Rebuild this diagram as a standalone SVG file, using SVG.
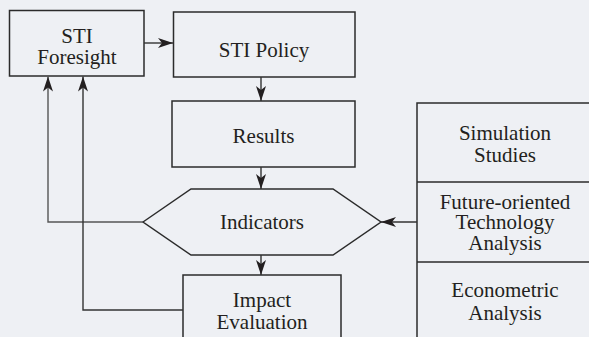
<svg xmlns="http://www.w3.org/2000/svg" width="589" height="337" viewBox="0 0 589 337" font-family="'Liberation Serif', serif" font-size="21">
  <style>
    .box { fill: none; stroke: #2b2b2b; stroke-width: 1.5; }
    .link { fill: none; stroke: #333; stroke-width: 1.4; }
    .lbl { fill: #231f20; text-anchor: middle; }
  </style>
  <defs>
    <marker id="arrow" markerUnits="userSpaceOnUse" markerWidth="16" markerHeight="12" viewBox="0 0 16 12" refX="15" refY="6" orient="auto">
      <path d="M0,1 L15,6 L0,11 L4,6 Z" fill="#231f20"/>
    </marker>
  </defs>
  <rect width="589" height="337" fill="#eef0f4"/>

  <g id="sti-foresight">
    <rect class="box" x="9.5" y="10.5" width="134.5" height="65.5"/>
    <text class="lbl" x="77" y="42.5">STI</text>
    <text class="lbl" x="77" y="63.5">Foresight</text>
  </g>

  <g id="sti-policy">
    <rect class="box" x="173.5" y="12" width="181.5" height="65"/>
    <text class="lbl" x="264" y="56.5">STI Policy</text>
  </g>

  <g id="results">
    <rect class="box" x="172" y="101" width="183" height="66"/>
    <text class="lbl" x="263.5" y="142.5">Results</text>
  </g>

  <g id="indicators">
    <polygon class="box" points="143,222 191,189 333,189 381,222 333,255 191,255"/>
    <text class="lbl" x="262" y="228.5">Indicators</text>
  </g>

  <g id="impact-evaluation">
    <rect class="box" x="183" y="275" width="158" height="70"/>
    <text class="lbl" x="262" y="306.5">Impact</text>
    <text class="lbl" x="262" y="328.5">Evaluation</text>
  </g>

  <g id="methods">
    <rect class="box" x="417" y="103" width="190" height="250"/>
    <line class="box" x1="417" y1="182" x2="589" y2="182"/>
    <line class="box" x1="417" y1="262" x2="589" y2="262"/>
    <text class="lbl" x="505" y="140">Simulation</text>
    <text class="lbl" x="505" y="161.5">Studies</text>
    <text class="lbl" x="505" y="208.5">Future-oriented</text>
    <text class="lbl" x="505" y="229">Technology</text>
    <text class="lbl" x="505" y="250">Analysis</text>
    <text class="lbl" x="505" y="297">Econometric</text>
    <text class="lbl" x="505" y="319.5">Analysis</text>
  </g>

  <g id="connectors">
    <line class="link" x1="144" y1="43" x2="173" y2="43" marker-end="url(#arrow)"/>
    <line class="link" x1="261" y1="77" x2="261" y2="101" marker-end="url(#arrow)"/>
    <line class="link" x1="261" y1="167" x2="261" y2="189" marker-end="url(#arrow)"/>
    <line class="link" x1="261" y1="255" x2="261" y2="275" marker-end="url(#arrow)"/>
    <line class="link" x1="417" y1="222" x2="381" y2="222" marker-end="url(#arrow)"/>
    <polyline class="link" stroke="#555" style="stroke:#555" points="143,222 48,222 48,76.5" marker-end="url(#arrow)"/>
    <polyline class="link" points="183,310 83,310 83,76.5" marker-end="url(#arrow)"/>
  </g>
</svg>
